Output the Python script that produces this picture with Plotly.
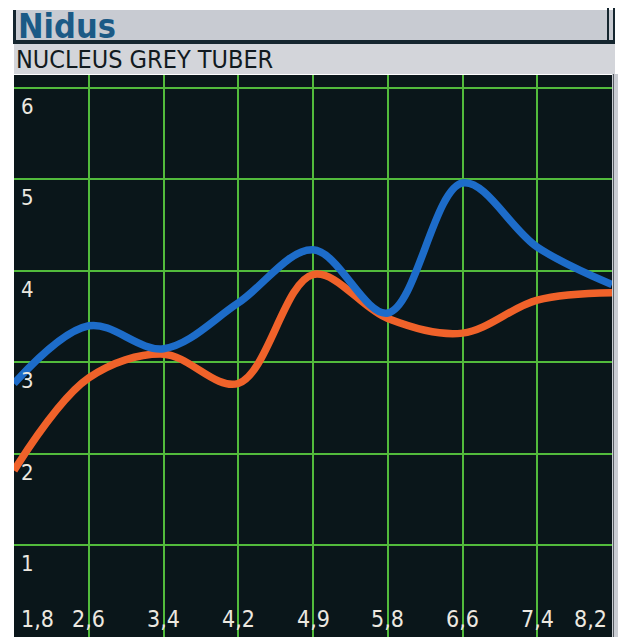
import plotly.graph_objects as go

# ---- data ----
x_labels = ["1,8", "2,6", "3,4", "4,2", "4,9", "5,8", "6,6", "7,4", "8,2"]
blue_values = [2.77, 3.40, 3.15, 3.65, 4.23, 3.54, 4.96, 4.26, 3.85]
orange_values = [1.82, 2.83, 3.09, 2.77, 3.96, 3.48, 3.32, 3.68, 3.76]
y_ticks = [1, 2, 3, 4, 5, 6]
title_text = "Nidus"
subtitle_text = "NUCLEUS GREY TUBER"

W, H = 621, 637
L, R, T, B = 14, 612, 75, 637
FONT = "DejaVu Sans Condensed, DejaVu Sans, Liberation Sans, sans-serif"


def px(x):
    return (x - L) / (R - L)


def py(y):
    return (B - y) / (B - T)


xs = list(range(len(x_labels)))

fig = go.Figure()
fig.add_trace(go.Scatter(x=xs, y=orange_values, mode="lines",
                         line=dict(color="#f0622a", width=7.5, shape="spline", smoothing=1.0),
                         hoverinfo="skip", showlegend=False))
fig.add_trace(go.Scatter(x=xs, y=blue_values, mode="lines",
                         line=dict(color="#1d6cc9", width=7.5, shape="spline", smoothing=1.0),
                         hoverinfo="skip", showlegend=False))

shapes = []


def rect(x0, y0, x1, y1, color):
    shapes.append(dict(type="rect", xref="paper", yref="paper",
                       x0=px(x0), x1=px(x1), y0=py(y1), y1=py(y0),
                       fillcolor=color, line=dict(width=0), layer="above"))


rect(L, 10, R + 3, 42, "#c8cbd2")
rect(L, 44, R + 3, 74, "#d3d5da")
rect(L, 40, R + 3, 44, "#15262f")
rect(L - 1, 10, L + 2, 44, "#15262f")
rect(R - 5, 8, R - 3, 44, "#15262f")
rect(R + 1, 8, R + 3, 44, "#15262f")
rect(R, 74, R + 6, B, "#c9ccd2")
rect(R + 1, 74, R + 2, B, "#5a6066")

annotations = [
    dict(text="<b>" + title_text + "</b>", xref="paper", yref="paper",
         x=px(16), y=py(26), xanchor="left", yanchor="middle", showarrow=False,
         font=dict(family=FONT, size=34, color="#1b5a86")),
    dict(text=subtitle_text, xref="paper", yref="paper",
         x=px(14), y=py(60), xanchor="left", yanchor="middle", showarrow=False,
         font=dict(family=FONT, size=25, color="#111a20")),
]
for i, lab in enumerate(x_labels):
    if i == 0:
        anchor, shift = "left", 5
    elif i == len(x_labels) - 1:
        anchor, shift = "right", -3
    else:
        anchor, shift = "center", 0
    annotations.append(dict(text=lab, x=i, xref="x", y=0, yref="paper",
                            xanchor=anchor, yanchor="bottom", xshift=shift, yshift=3,
                            showarrow=False,
                            font=dict(family=FONT, size=23, color="#ece8e0")))

fig.update_layout(
    width=W, height=H,
    margin=dict(l=L, r=W - R, t=T, b=H - B, pad=0),
    paper_bgcolor="white",
    plot_bgcolor="#0a161a",
    shapes=shapes,
    annotations=annotations,
    xaxis=dict(range=[0, len(x_labels) - 1], tickvals=xs[1:-1], showticklabels=False,
               showgrid=True, gridcolor="#52bb3c", gridwidth=1.5, zeroline=False,
               showline=False, ticks="", fixedrange=True),
    yaxis=dict(range=[0, 6.14], tickvals=y_ticks, ticktext=[str(v) for v in y_ticks],
               ticklabelposition="inside", ticklabelshift=18, ticklabelstandoff=4,
               ticklabeloverflow="allow",
               tickfont=dict(family=FONT, size=22, color="#ece8e0"),
               showgrid=True, gridcolor="#52bb3c", gridwidth=1.5, zeroline=False,
               showline=False, ticks="", fixedrange=True),
)

fig.write_html("out.html", config={"displayModeBar": False})
with open("out.html", "r", encoding="utf-8") as f:
    html = f.read()
html = html.replace("<head>", "<head><style>html,body{margin:0;padding:0;}</style>", 1)
with open("out.html", "w", encoding="utf-8") as f:
    f.write(html)
